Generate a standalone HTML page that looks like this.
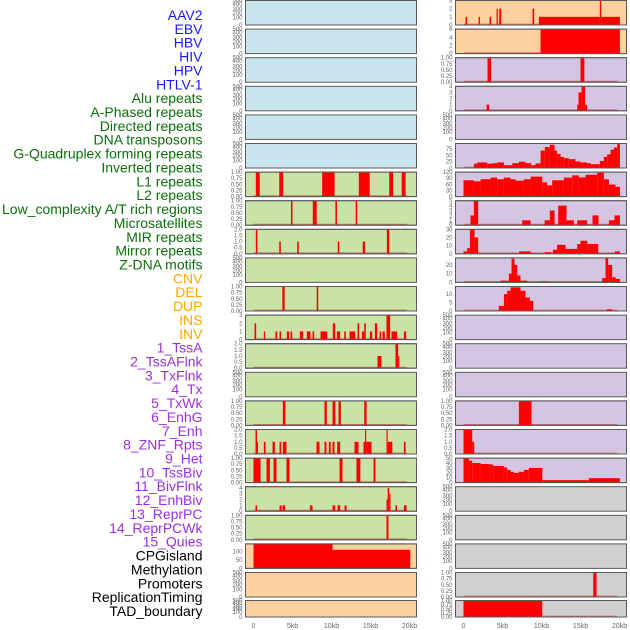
<!DOCTYPE html>
<html><head><meta charset="utf-8"><style>
html,body{margin:0;padding:0;background:#fff;width:630px;height:630px;overflow:hidden}
svg{display:block}
.lab{font-family:"Liberation Sans",sans-serif;font-size:14px;text-anchor:end}
.tk{font-family:"Liberation Sans",sans-serif;font-size:6px;fill:#666;text-anchor:end}
.xt{font-family:"Liberation Sans",sans-serif;font-size:7px;fill:#666;text-anchor:middle}
</style></head><body>
<svg id="chart" width="630" height="630" xmlns="http://www.w3.org/2000/svg"></svg>
<script>
// ---- data ----
const trackLabels = ["AAV2","EBV","HBV","HIV","HPV","HTLV-1","Alu repeats","A-Phased repeats","Directed repeats","DNA transposons","G-Quadruplex forming repeats","Inverted repeats","L1 repeats","L2 repeats","Low_complexity A/T rich regions","Microsatellites","MIR repeats","Mirror repeats","Z-DNA motifs","CNV","DEL","DUP","INS","INV","1_TssA","2_TssAFlnk","3_TxFlnk","4_Tx","5_TxWk","6_EnhG","7_Enh","8_ZNF_Rpts","9_Het","10_TssBiv","11_BivFlnk","12_EnhBiv","13_ReprPC","14_ReprPCWk","15_Quies","CPGisland","Methylation","Promoters","ReplicationTiming","TAD_boundary"];
const labelColors = {virus:"#1a1aff",repeat:"#0b700b",sv:"#ffa500",state:"#9b30e0",other:"#000"};
const xTicks = [0,5,10,15,20];
const xTickLabels = ["0","5kb","10kb","15kb","20kb"];
const emptyTicks = [0,100,200,300,400,500];
const unitTicks = [0,0.25,0.5,0.75,1];
const twoTicks = [0,0.5,1,1.5,2];
// left column segments [startKb,endKb,value]
const L6 = [[0.3,0.8,1],[3.3,3.8,1],[8.8,10.4,1],[13.5,14.9,1],[17.4,17.9,1],[19.0,19.5,1]];
const L7 = [[4.8,5.0,1],[7.6,8.1,1],[10.5,10.7,1],[13.1,13.3,1]];
const L8 = [[0.3,0.5,2],[3.3,3.5,1],[5.6,5.8,1],[10.8,11.0,1],[14.0,14.3,1],[17.1,17.4,2]];
const L10 = [[3.7,4.0,1],[8.1,8.3,1]];
const L11 = [[0.13,0.34,2],[1.33,1.5,1],[2.82,3.04,1],[3.34,3.55,1],[4.28,4.58,1],[4.75,4.96,1],[5.94,6.37,1],[6.84,7.31,1],[7.57,7.78,1],[8.59,9.45,1],[10.17,10.47,2],[10.69,11.11,1],[11.63,11.84,1],[12.31,13.04,1],[13.34,13.55,2],[13.89,14.2,1],[14.2,14.4,2],[14.92,15.22,1],[15.56,15.86,2],[16.16,16.37,1],[16.54,16.84,1],[17.05,17.52,3],[17.7,18.42,1],[19.28,19.58,1]];
const L12 = [[15.9,16.4,1],[18.2,18.55,2],[18.55,18.7,1]];
const L14 = [[3.76,4.1,1],[9.1,9.4,1],[10.13,10.5,1],[10.9,11.2,1],[14.2,14.5,1]];
const L15 = [[0.26,0.45,2],[0.45,0.56,1],[1.33,1.55,1],[2.44,2.74,1],[3.34,3.55,1],[3.76,4.23,1],[8.08,8.46,1],[9.1,9.35,1],[9.66,9.9,1],[10.13,10.38,1],[10.73,11.11,1],[12.95,13.46,1],[14.1,14.3,1],[14.3,14.45,2],[14.45,15.13,1],[17.05,17.2,2],[17.2,17.8,1],[19.28,19.5,1]];
const L16 = [[0,0.9,1],[1.67,2.1,1],[2.57,2.95,1],[4.23,4.62,1],[11.03,11.41,1],[13.2,13.7,1],[15.39,15.64,1]];
const L17 = [[0.26,0.47,1],[3.34,3.6,1],[3.72,4.06,1],[7.23,7.57,1],[10.13,10.47,1],[10.78,11.11,1],[11.67,11.93,1],[17.05,17.2,2],[17.2,17.4,4],[17.4,17.57,3],[18.2,18.4,1],[19.28,19.62,1]];
const L18 = [[17.05,17.3,1]];
const L19 = [[0,10.13,145],[10.13,20.1,110]];
// right column
const R0 = [[0.26,0.47,1],[1.93,2.1,1],[3.34,3.55,1],[4.24,4.4,2],[4.58,4.84,2],[8.85,9.06,2],[9.66,17.48,1],[17.48,17.66,3],[17.66,20.05,1]];
const R1 = [[9.88,20.05,6]];
const R2 = [[3.08,3.55,1],[15.0,15.5,1]];
const R3 = [[2.96,3.3,1],[14.58,14.75,1],[14.75,15.14,3],[15.14,15.6,4],[15.6,15.86,1]];
const R5 = [[1.33,1.76,17],[1.76,3.04,22],[3.04,3.68,17],[3.68,4.32,19],[4.32,5.18,22],[5.18,6.25,11],[6.25,7.1,19],[7.1,7.95,25],[7.95,8.68,19],[8.68,9.24,11],[9.24,9.88,18],[9.88,10.43,69],[10.43,11.07,83],[11.07,11.67,92],[11.67,12.0,69],[12.0,12.44,56],[12.44,12.87,44],[12.87,13.51,39],[13.51,14.36,35],[14.36,15.0,26],[15.0,15.86,22],[15.86,16.29,19],[16.29,17.48,15],[17.48,17.99,28],[17.99,18.42,44],[18.42,18.85,54],[18.85,19.28,72],[19.28,19.71,81],[19.71,20.05,97]];
const R6 = [[0,1.33,80],[1.33,2.19,75],[2.19,3.47,85],[3.47,4.32,93],[4.32,5.18,85],[5.18,6.03,93],[6.03,6.67,85],[6.67,7.74,78],[7.74,8.6,85],[8.6,10.1,98],[10.1,10.73,70],[10.73,11.37,55],[11.37,12.87,80],[12.87,13.94,93],[13.94,14.79,104],[14.79,15.65,94],[15.65,17.14,107],[17.14,17.99,117],[17.99,18.64,85],[18.64,19.49,59],[19.49,20.05,48]];
const R7 = [[0.9,1.33,2],[1.33,1.88,5],[7.53,8.6,1],[10.4,11.07,1],[11.07,11.67,3],[12.14,13.21,4],[13.21,14.15,1],[14.58,15.86,1],[16.54,17.31,2],[18.64,19.36,1],[19.36,20.05,2]];
const R8 = [[0,0.47,3],[0.47,0.82,7],[0.82,1.42,30],[1.42,1.88,20],[7.14,8.6,3],[10.4,11.25,2],[11.46,12.0,5],[12.0,13.08,11],[13.08,14.58,6],[14.58,15.0,12],[15.0,15.86,16],[15.86,17.27,12],[19.4,20.05,3]];
const R9 = [[4.75,5.82,2],[5.82,6.16,10],[6.16,6.54,27],[6.54,6.89,20],[6.89,7.31,8],[7.31,8.17,2],[9.88,10.95,1],[17.78,18.21,5],[18.21,18.55,28],[18.55,19.06,20],[19.06,19.49,6],[19.49,20.05,4]];
const R10 = [[4.53,5.18,3],[5.18,5.6,10],[5.6,6.03,12],[6.03,7.31,14],[7.31,7.95,12],[7.95,8.51,8],[8.51,8.94,6],[18.34,19.06,1]];
const R14 = [[7.1,8.72,1]];
const R15 = [[0,1.12,2],[1.12,1.37,1]];
const R16 = [[0,0.69,50],[0.69,1.12,45],[1.12,2.19,40],[2.19,3.34,38],[3.34,3.81,37],[3.81,5.18,34],[5.18,5.6,31],[5.6,6.03,26],[6.03,6.46,22],[6.46,7.1,20],[7.1,7.74,22],[7.74,8.38,26],[8.38,10.1,30],[10.1,16.07,5],[16.07,20.05,9]];
const R20 = [[16.63,17.06,1]];
const R21 = [[0,10.1,1]];

// panel specs: [name, segments, ticks, ymax, bg]
const BLUE="#c8e4ec",ORANGE="#fed09e",PURPLE="#d4c6e2",GREEN="#c9e2a6",GREY="#d0d0d0";
const leftPanels = [
 ["aav2",null,emptyTicks,500,BLUE],["ebv",null,emptyTicks,500,BLUE],["hbv",null,emptyTicks,500,BLUE],
 ["hiv",null,emptyTicks,500,BLUE],["hpv",null,emptyTicks,500,BLUE],["htlv",null,emptyTicks,500,BLUE],
 ["l6",L6,unitTicks,1,GREEN],["l7",L7,unitTicks,1,GREEN],["l8",L8,twoTicks,2,GREEN],
 ["l9",null,emptyTicks,500,GREEN],["l10",L10,unitTicks,1,GREEN],["l11",L11,[0,1,2,3],3,GREEN],
 ["l12",L12,twoTicks,2,GREEN],["l13",null,emptyTicks,500,GREEN],["l14",L14,unitTicks,1,GREEN],
 ["l15",L15,twoTicks,2,GREEN],["l16",L16,unitTicks,1,GREEN],["l17",L17,[0,1,2,3,4],4.2,GREEN],
 ["l18",L18,unitTicks,1,GREEN],["l19",L19,[0,50,100],145,ORANGE],["l20",null,emptyTicks,500,ORANGE],
 ["l21",null,emptyTicks,500,ORANGE]];
const rightPanels = [
 ["r0",R0,[0,1,2,3],3,ORANGE],["r1",R1,[0,2,4,6],6,ORANGE],["r2",R2,unitTicks,1,PURPLE],
 ["r3",R3,[0,1,2,3,4],4,PURPLE],["r4",null,emptyTicks,500,PURPLE],["r5",R5,[0,25,50,75],97,PURPLE],
 ["r6",R6,[0,30,60,90,120],120,PURPLE],["r7",R7,[0,1,2,3,4,5],5,PURPLE],["r8",R8,[0,10,20,30],30,PURPLE],
 ["r9",R9,[0,10,20],28,PURPLE],["r10",R10,[0,5,10],14.5,PURPLE],["r11",null,emptyTicks,500,PURPLE],
 ["r12",null,emptyTicks,500,PURPLE],["r13",null,emptyTicks,500,PURPLE],["r14",R14,unitTicks,1,PURPLE],
 ["r15",R15,twoTicks,2,PURPLE],["r16",R16,[0,10,20,30,40,50],50,PURPLE],["r17",null,emptyTicks,500,GREY],
 ["r18",null,emptyTicks,500,GREY],["r19",null,emptyTicks,500,GREY],["r20",R20,unitTicks,1,GREY],
 ["r21",R21,unitTicks,1,GREY]];

// ---- drawing ----
const NS="http://www.w3.org/2000/svg";
const svg=document.getElementById("chart");
function mk(tag,attrs,parent){const e=document.createElementNS(NS,tag);for(const k in attrs)e.setAttribute(k,attrs[k]);(parent||svg).appendChild(e);return e;}
const PW=171, PH=24.5, PITCH=28.6;
function xScale(colX,kb){return colX+8+kb*7.8;}
function rowTop(i){return i===21?600.5:0.5+i*PITCH;}
function rowH(i){return i===21?16.5:PH;}
function tickFrac(v,ymax,isEmpty){
  if(isEmpty){const m={0:0,100:0.3,200:0.48,300:0.65,400:0.86,500:1};return m[v];}
  return v/ymax;
}
function drawPanel(spec,i,colX,side){
  const [nm,segs,ticks,ymax,bg]=spec;
  const top=rowTop(i),h=rowH(i),bot=top+h;
  const g=mk("g",{});
  
  
  const r=mk("rect",{x:colX,y:top,width:PW,height:h,fill:bg,stroke:"#5a5a5a","stroke-width":1},g);
  
  
  const empty=!segs;
  ticks.forEach(t=>{
    const f=tickFrac(t,ymax,empty);
    const ty=bot-f*h;
    const tx=mk("text",{x:colX-3,y:ty+2,class:"tk"},g);
    tx.textContent=(ticks===unitTicks)?t.toFixed(2):(ticks===twoTicks?t.toFixed(1):String(t));
    
    
  });
  if(segs){
    const bl=mk("line",{x1:xScale(colX,0),x2:xScale(colX,19.7),y1:bot-0.8,y2:bot-0.8,stroke:"rgba(200,0,0,0.45)","stroke-width":1.2},g);
    
    
    segs.forEach(s=>{
      const x0=xScale(colX,s[0]),x1=xScale(colX,s[1]);
      const hh=Math.min(s[2]/ymax,1)*h;
      const b=mk("rect",{x:x0,y:bot-hh,width:Math.max(x1-x0,1),height:hh,fill:"#ff0000"},g);
      
      
    });
    mk("rect",{x:colX,y:top,width:PW,height:h,fill:"none",stroke:"#5a5a5a","stroke-width":1},g);
  }
}
leftPanels.forEach((p,i)=>drawPanel(p,i,245.5,'left'));
rightPanels.forEach((p,i)=>drawPanel(p,i,455.5,'right'));
[245.5,455.5].forEach((cx,ci)=>{
  xTicks.forEach((t,j)=>{
    const tx=mk("text",{x:xScale(cx,t),y:628,class:"xt"});
    tx.textContent=xTickLabels[j];
    
    
  });
});
trackLabels.forEach((lab,k)=>{
  let c=labelColors.other;
  if(k<6)c=labelColors.virus;else if(k<19)c=labelColors.repeat;else if(k<24)c=labelColors.sv;else if(k<39)c=labelColors.state;
  const t=mk("text",{x:202.5,y:20+k*13.86,class:"lab",fill:c});
  t.textContent=lab;
  
  
});
</script>
</body></html>
